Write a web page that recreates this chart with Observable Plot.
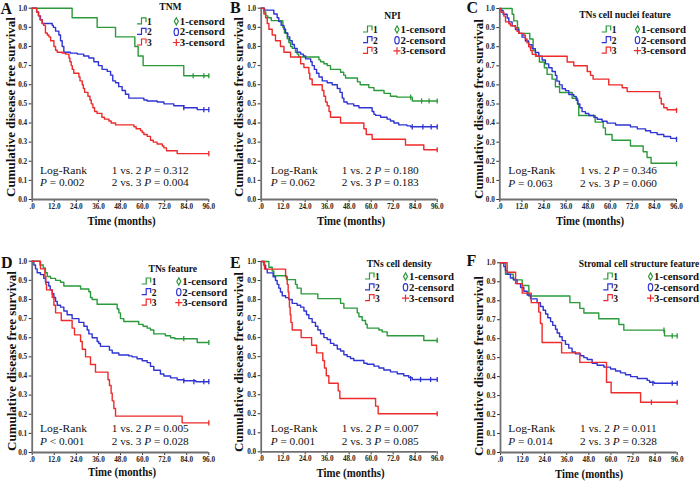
<!DOCTYPE html>
<html><head><meta charset="utf-8">
<script src="https://cdn.jsdelivr.net/npm/d3@7"></script>
<script src="https://cdn.jsdelivr.net/npm/@observablehq/plot@0.6"></script>
<style>
body{margin:0;background:#fff;}
#wrap{position:relative;width:700px;height:482px;overflow:hidden;}
.panel{position:absolute;}
#over{position:absolute;left:0;top:0;pointer-events:none;}
</style></head><body><div id="wrap"></div>
<script>
// ---------- data ----------
const xTicks=[0,12,24,36,48,60,72,84,96];
const xTickLabels=[".0","12.0","24.0","36.0","48.0","60.0","72.0","84.0","96.0"];
const yTicks=[0,0.1,0.2,0.3,0.4,0.5,0.6,0.7,0.8,0.9,1.0];
const yTickLabels=["0.0","0.1","0.2","0.3","0.4","0.5","0.6","0.7","0.8","0.9","1.0"];
const groups=["1","2","3"];
const censorLabels=["1-censord","2-censord","3-censord"];
const panelLetters=["A","B","C","D","E","F"];
const legendTitles=["TNM","NPI","TNs cell nuclei feature","TNs feature","TNs cell density","Stromal cell structure feature"];
const overallP=["= 0.002","= 0.062","= 0.063","< 0.001","= 0.001","= 0.014"];
const p12=["0.312","0.180","0.346","0.005","0.007","0.011"];
const p23=["0.004","0.183","0.060","0.028","0.085","0.328"];
const xTitle="Time (months)";
const yTitle="Cumulative disease free survival";

// Panel A (TNM)
const A1=[[0,1],[21.7,0.95],[35.3,0.90],[45.3,0.85],[55.8,0.80],[57.6,0.75],[60.3,0.70],[82.4,0.647],[96,0.647]];
const A1c=[[87.5,0.647],[93.3,0.647],[96,0.647]];
const A2=[[0,1],[2.4,0.98],[3.5,0.96],[4.5,0.94],[5.5,0.92],[10.9,0.91],[11.5,0.90],[12.7,0.88],[14.5,0.86],[15.4,0.83],[16.3,0.80],[17.2,0.77],[20.8,0.765],[24.5,0.76],[28,0.75],[30.8,0.74],[33.5,0.72],[36,0.70],[38,0.68],[40.8,0.67],[42.6,0.65],[43.8,0.62],[45.3,0.61],[47,0.59],[48.9,0.57],[50.7,0.55],[52.5,0.53],[60.7,0.52],[62.5,0.515],[68,0.51],[71.6,0.50],[77,0.49],[82.4,0.48],[89.7,0.47],[96,0.47]];
const A2c=[[82.4,0.48],[93.3,0.47],[96,0.47]];
const A3=[[0,1],[2.4,0.98],[3.3,0.96],[4.2,0.94],[5.4,0.92],[6.3,0.91],[7.2,0.87],[8.2,0.86],[9.1,0.85],[10,0.83],[11.8,0.80],[12.7,0.78],[13.6,0.77],[16.3,0.765],[18.1,0.76],[20,0.74],[20.5,0.72],[21.2,0.70],[21.8,0.68],[22.6,0.66],[25.4,0.64],[26,0.62],[27.2,0.60],[27.8,0.58],[28.5,0.56],[30.3,0.54],[31.4,0.52],[32.1,0.50],[33,0.48],[33.9,0.46],[35.3,0.45],[37.9,0.43],[39.3,0.42],[41.7,0.41],[42.9,0.40],[45.3,0.39],[55.3,0.38],[56.5,0.37],[58.9,0.36],[59.8,0.35],[60.7,0.34],[62.5,0.33],[64.3,0.31],[65.8,0.30],[67.9,0.29],[70.7,0.28],[71.6,0.27],[73,0.255],[78.8,0.24],[96,0.24]];
const A3c=[[96,0.24]];

// Panel B (NPI)
const B1=[[0,1],[1.5,0.98],[2.5,0.96],[3.6,0.95],[5.5,0.935],[11.8,0.90],[12.7,0.87],[14.2,0.84],[15.1,0.82],[16,0.80],[16.9,0.79],[18.7,0.77],[19.6,0.76],[20.5,0.745],[31.5,0.73],[32.4,0.72],[34.2,0.71],[36,0.70],[37.8,0.68],[43.3,0.665],[45,0.65],[46,0.635],[52.5,0.615],[54,0.60],[58.7,0.585],[61.5,0.57],[67,0.555],[70.5,0.54],[74,0.535],[82.4,0.515],[96,0.515]];
const B1c=[[81.5,0.535],[87.5,0.515],[91.6,0.515],[96,0.515]];
const B2=[[0,1],[1.8,0.99],[6.9,0.97],[8.7,0.95],[9.6,0.93],[10.9,0.91],[12.4,0.89],[13.3,0.87],[14.5,0.85],[15.6,0.83],[16.9,0.81],[18.1,0.79],[19.6,0.77],[21.5,0.76],[23,0.75],[24.2,0.735],[27,0.72],[27.8,0.70],[29,0.68],[30.2,0.66],[31.5,0.64],[33.3,0.62],[36,0.61],[38.7,0.60],[41.5,0.58],[43,0.56],[44.2,0.53],[45.1,0.51],[46.9,0.50],[50.5,0.49],[53.3,0.48],[60.5,0.46],[61.5,0.445],[62.4,0.44],[65.1,0.43],[68.7,0.42],[70.5,0.41],[72.4,0.40],[75,0.39],[79.5,0.385],[81.5,0.38],[96,0.38]];
const B2c=[[82.4,0.38],[88.2,0.38],[92.7,0.38],[96,0.38]];
const B3=[[0,1],[1.5,0.97],[2.4,0.95],[3.3,0.92],[4.2,0.89],[6,0.86],[7.8,0.83],[10.5,0.80],[12.4,0.77],[16,0.745],[21.5,0.71],[23.3,0.69],[26,0.66],[26.5,0.63],[27.8,0.60],[33.3,0.57],[34.2,0.54],[35.1,0.51],[36,0.49],[37,0.46],[37.8,0.43],[43.3,0.40],[56,0.37],[57.3,0.34],[60.5,0.315],[78.7,0.285],[88.7,0.26],[96,0.26]];
const B3c=[[96,0.26]];

// Panel C (TNs cell nuclei feature)
const C1=[[0,1],[6.7,0.97],[7.6,0.935],[9.6,0.90],[10.3,0.87],[16.3,0.84],[18.1,0.78],[19.4,0.75],[21.5,0.72],[24.2,0.69],[25.7,0.655],[28.4,0.63],[30.2,0.59],[32.5,0.56],[39.3,0.53],[42.2,0.50],[42.9,0.44],[51.8,0.405],[56.2,0.375],[57.4,0.34],[61,0.31],[71,0.28],[77.9,0.25],[80,0.22],[82.2,0.19],[96,0.187]];
const C1c=[[96,0.187]];
const C2=[[0,1],[0.7,0.99],[1.8,0.97],[4,0.95],[4.9,0.93],[6.7,0.91],[8.5,0.89],[10.3,0.87],[12.1,0.85],[13.9,0.83],[15.7,0.81],[17.5,0.79],[19.3,0.77],[21.2,0.75],[23,0.73],[24.8,0.71],[26.6,0.69],[28.4,0.67],[30.2,0.65],[31,0.62],[32.4,0.60],[33.9,0.58],[35.7,0.57],[37.5,0.55],[40.2,0.54],[41.5,0.52],[42.4,0.50],[43.5,0.48],[44.7,0.46],[46.5,0.45],[48.4,0.44],[51.1,0.43],[52.9,0.42],[55.6,0.41],[58.3,0.40],[62.9,0.39],[71,0.38],[74.7,0.37],[79.2,0.36],[81.9,0.35],[85.5,0.34],[89.1,0.33],[92.8,0.32],[96,0.315]];
const C2c=[[96,0.315]];
const C3=[[0,1],[0.7,0.98],[2.2,0.96],[3.1,0.93],[4.9,0.92],[5.8,0.91],[8.5,0.90],[9.4,0.88],[10.3,0.87],[13,0.86],[13.9,0.84],[14.8,0.82],[15.7,0.80],[16.7,0.78],[17.6,0.76],[19.8,0.75],[36.6,0.72],[40.2,0.70],[47.5,0.67],[49.3,0.65],[50.7,0.63],[59.2,0.60],[66.5,0.585],[69.2,0.565],[86.8,0.53],[87.7,0.50],[89.1,0.48],[90.9,0.47],[96,0.467]];
const C3c=[[96,0.467]];

// Panel D (TNs feature)
const D1=[[0,1],[4.2,0.98],[6,0.965],[7.2,0.94],[8.2,0.92],[10,0.91],[12.7,0.90],[15.4,0.89],[17.2,0.87],[26.3,0.855],[30.8,0.84],[31.7,0.81],[32.6,0.80],[35.3,0.775],[46.2,0.75],[47.1,0.73],[48,0.70],[49.8,0.685],[57.9,0.67],[60.3,0.66],[62.5,0.65],[64.3,0.64],[66.1,0.62],[72.4,0.61],[75.2,0.60],[77.5,0.595],[89.7,0.575],[96,0.575]];
const D1c=[[82.4,0.595],[96,0.575]];
const D2=[[0,1],[0.9,0.98],[1.8,0.96],[2.7,0.94],[4.5,0.93],[6.3,0.91],[7.2,0.89],[9,0.87],[9.8,0.85],[10.9,0.83],[11.8,0.81],[12.7,0.79],[13.6,0.77],[15.4,0.76],[17.2,0.74],[19,0.72],[21.7,0.70],[25.4,0.68],[28.1,0.66],[29.9,0.64],[30.8,0.62],[32.6,0.60],[35.3,0.58],[36.2,0.57],[37.1,0.555],[42,0.535],[43.5,0.52],[47.1,0.51],[52.5,0.505],[54.3,0.50],[57,0.49],[59.8,0.48],[62.5,0.47],[64.3,0.45],[66.1,0.43],[69.7,0.41],[71.6,0.40],[75.2,0.39],[78.8,0.38],[82.4,0.375],[89,0.37],[96,0.37]];
const D2c=[[82.4,0.375],[87.9,0.37],[93.3,0.37],[96,0.37]];
const D3=[[0,1],[4.5,0.96],[6.9,0.92],[7.4,0.88],[7.8,0.85],[10.9,0.81],[11.8,0.77],[12.7,0.73],[15.8,0.69],[21.7,0.65],[23,0.615],[26.3,0.58],[27.2,0.54],[29,0.50],[31.7,0.46],[34.4,0.42],[41.2,0.38],[42,0.35],[42.9,0.31],[43.5,0.27],[44.4,0.23],[45.3,0.19],[81.5,0.155],[96,0.155]];
const D3c=[[96,0.155]];

// Panel E (TNs cell density)
const E1=[[0,1],[4.2,0.97],[6,0.95],[6.9,0.925],[13.8,0.905],[18.7,0.88],[19.6,0.86],[21.8,0.83],[30.9,0.805],[43.3,0.78],[45.1,0.755],[52.4,0.73],[53.3,0.71],[55.1,0.69],[56.9,0.67],[57.8,0.65],[64.2,0.64],[66,0.63],[68.7,0.61],[88.7,0.585],[96,0.585]];
const E1c=[[96,0.585]];
const E2=[[0,1],[1.5,0.98],[2.4,0.96],[3.3,0.94],[6.5,0.92],[7.8,0.90],[8.7,0.88],[9.6,0.86],[10.5,0.84],[11.5,0.82],[13.3,0.81],[15.1,0.80],[16.9,0.78],[19.6,0.77],[21.5,0.76],[23.3,0.74],[24.7,0.72],[26,0.70],[27.8,0.68],[29.6,0.66],[30.9,0.64],[32.4,0.62],[34.2,0.60],[36,0.59],[37.8,0.57],[39.6,0.56],[41.5,0.54],[43.3,0.53],[45.1,0.51],[46.9,0.50],[48.7,0.49],[50.5,0.48],[56,0.465],[57.8,0.46],[61.5,0.45],[64.2,0.44],[66.9,0.43],[70.5,0.42],[74.2,0.41],[77.8,0.40],[80.5,0.39],[82.4,0.38],[96,0.38]];
const E2c=[[81.5,0.385],[86.9,0.38],[92.4,0.38],[96,0.38]];
const E3=[[0,1],[1.8,0.96],[13.3,0.92],[14.2,0.88],[14.7,0.84],[15.1,0.80],[15.4,0.76],[15.8,0.72],[16.2,0.68],[16.9,0.64],[21.8,0.60],[27.5,0.56],[30.2,0.52],[33.6,0.48],[34.5,0.44],[35.5,0.40],[36.9,0.36],[42,0.32],[42.9,0.28],[62.4,0.24],[63.8,0.20],[96,0.20]];
const E3c=[[96,0.20]];

// Panel F (Stromal cell structure feature)
const F1=[[0,1],[2.7,0.94],[6.9,0.91],[11.8,0.88],[15.4,0.825],[37.7,0.79],[43.1,0.76],[45.3,0.735],[53.4,0.705],[64.3,0.675],[67,0.645],[89.1,0.615],[96,0.615]];
const F1c=[[88.8,0.645],[93.3,0.615],[96,0.615]];
const F2=[[0,1],[1.8,0.98],[2.7,0.96],[3.6,0.94],[5.4,0.92],[7.2,0.91],[9,0.89],[10.9,0.87],[12.7,0.85],[14.5,0.83],[16.3,0.81],[19.9,0.79],[21.7,0.77],[23.2,0.75],[24.5,0.73],[25.7,0.71],[27.2,0.69],[28.4,0.67],[29.9,0.65],[30.8,0.63],[32.1,0.61],[33.5,0.59],[35.3,0.57],[37.1,0.55],[38.9,0.53],[40.7,0.52],[43.5,0.51],[45.3,0.50],[47.1,0.49],[49.8,0.47],[52.5,0.46],[56.2,0.45],[59.8,0.44],[62.5,0.43],[65.2,0.42],[67.9,0.41],[70.7,0.40],[74.3,0.39],[79.7,0.38],[81,0.37],[83.5,0.365],[96,0.365]];
const F2c=[[82.8,0.365],[93.3,0.365],[96,0.365]];
const F3=[[0,1],[3.6,0.95],[8.2,0.89],[11.8,0.84],[16.7,0.79],[20.8,0.74],[21.7,0.68],[22.6,0.58],[33.2,0.525],[43.1,0.475],[57.6,0.37],[60.1,0.315],[76.1,0.265],[96,0.265]];
const F3c=[[82,0.265],[96,0.265]];

const series=[[A1,A2,A3],[B1,B2,B3],[C1,C2,C3],[D1,D2,D3],[E1,E2,E3],[F1,F2,F3]];
const censors=[[A1c,A2c,A3c],[B1c,B2c,B3c],[C1c,C2c,C3c],[D1c,D2c,D3c],[E1c,E2c,E3c],[F1c,F2c,F3c]];

// ---------- layout & style ----------
const colors=["#2a9a3a","#2f34d2","#ee2a2a"];
const layout=[
 {box:[0,0,230,240],frame:[31.7,208.3,7.7,199],letter:[0.5,14],yt:[15,107],xt:[121.5,225],lr:[40,111.7,173.5,186],lg:{tx:170.5,ty:10,ix:137,sx:176.3,rows:[24.8,35.4,46]}},
 {box:[230,0,230,240],frame:[260.7,436.7,7.7,199],letter:[230,13],yt:[243,107],xt:[351,225],lr:[270.7,341.7,173.5,186],lg:{tx:392.5,ty:19.3,ix:363,sx:397,rows:[33,43.7,54.3]}},
 {box:[460,0,240,240],frame:[499.3,676,8,199],letter:[466.5,13],yt:[482.5,109],xt:[590,225],lr:[508.3,580,174,186.5],lg:{tx:625,ty:18.3,ix:601.7,sx:637.5,rows:[33,43.6,54.2]}},
 {box:[0,240,230,242],frame:[31.7,208.3,260.7,452],letter:[1,268],yt:[15.5,361],xt:[122,475.5],lr:[40,111.7,432,444.5],lg:{tx:172.8,ty:271.7,ix:141.7,sx:178.8,rows:[285,295.6,306.2]}},
 {box:[230,240,230,242],frame:[260.7,436.7,261,451.3],letter:[230,268],yt:[242.5,362],xt:[350.5,477],lr:[270.7,341.7,432.3,444.8],lg:{tx:399.2,ty:266.7,ix:365,sx:405.5,rows:[280,290.8,301.6]}},
 {box:[460,240,240,242],frame:[500,676.7,262.3,452],letter:[466.5,266],yt:[482.5,366],xt:[589,478],lr:[508.3,580,432.3,444.8],lg:{tx:639,ty:266.7,ix:603.3,sx:650.5,rows:[280,290.8,301.6]}}
];
const SERIF='"Liberation Serif","Times New Roman",serif';
const tickSym={draw(ctx){ctx.moveTo(0,-2.6);ctx.lineTo(0,2.6);}};

const wrap=document.getElementById("wrap");

layout.forEach((L,p)=>{
  const [bx,by,bw,bh]=L.box, [fx0,fx1,fy0,fy1]=L.frame;
  const marks=[
    Plot.axisY({ticks:yTicks,tickFormat:d=>yTickLabels[yTicks.indexOf(d)],tickSize:3,tickPadding:2,label:null,stroke:"#333"}),
    Plot.axisX({ticks:xTicks,tickFormat:d=>xTickLabels[xTicks.indexOf(d)],tickSize:3,tickPadding:1,label:null,stroke:"#333"}),
    Plot.ruleX([0],{stroke:"#707070",strokeWidth:1.8}),
    Plot.ruleY([0],{stroke:"#707070",strokeWidth:1.8})
  ];
  series[p].forEach((s,i)=>{
    marks.push(Plot.line(s,{x:d=>d[0],y:d=>d[1],curve:"step-after",stroke:colors[i],strokeWidth:1.4}));
  });
  censors[p].forEach((c,i)=>{
    marks.push(Plot.dot(c,{x:d=>d[0],y:d=>d[1],symbol:tickSym,stroke:colors[i],strokeWidth:1.3,fill:"none",r:3}));
  });
  const chart=Plot.plot({
    width:bw,height:bh,
    marginLeft:fx0-bx,marginRight:bx+bw-fx1,marginTop:fy0-by,marginBottom:by+bh-fy1,
    x:{domain:[0,96]},y:{domain:[0,1]},
    style:{fontFamily:SERIF,fontSize:"7.2px",fontWeight:"bold",color:"#222",background:"transparent",overflow:"visible"},
    marks
  });
  chart.classList.add("panel");
  chart.style.left=bx+"px";chart.style.top=by+"px";
  wrap.appendChild(chart);
});

// ---------- overlay texts / legends ----------
const svg=d3.select(wrap).append("svg").attr("id","over").attr("width",700).attr("height",482)
  .style("font-family",SERIF);
function txt(x,y,s,o={}){
  const t=svg.append("text")
    .attr("font-size",o.size||10).attr("font-weight",o.weight||"normal").attr("text-anchor",o.anchor||"start")
    .attr("fill","#111").text(s);
  if(o.italic) t.attr("font-style","italic");
  if(o.rot) t.attr("transform",`translate(${x},${y}) rotate(-90)`);
  else t.attr("x",x).attr("y",y);
  if(o.len) t.attr("textLength",o.len).attr("lengthAdjust","spacingAndGlyphs");
  return t;
}
// a run of text pieces placed one after another (italic P etc.)
function run(x,y,parts,size){
  let cx=x;
  parts.forEach(pt=>{
    const t=txt(cx,y,pt.t,{size,italic:pt.i});
    cx+=t.node().getComputedTextLength()+size*0.25;
  });
}
const LR=11.3;
layout.forEach((L,p)=>{
  txt(L.letter[0],L.letter[1],panelLetters[p],{size:16,weight:"bold"});
  txt(L.yt[0],L.yt[1],yTitle,{size:13,weight:"bold",anchor:"middle",rot:true});
  txt(L.xt[0],L.xt[1],xTitle,{size:12.5,weight:"bold",anchor:"middle",len:68});
  const [lx,rx,y1,y2]=L.lr;
  txt(lx,y1,"Log-Rank",{size:LR,len:47});
  run(lx,y2,[{t:"P",i:true},{t:overallP[p]}],LR);
  run(rx,y1,[{t:"1 vs. 2"},{t:"P",i:true},{t:"= "+p12[p]}],LR);
  run(rx,y2,[{t:"2 vs. 3"},{t:"P",i:true},{t:"= "+p23[p]}],LR);
  const g=L.lg;
  txt(g.tx,g.ty,legendTitles[p],{size:9.6,weight:"bold",anchor:"middle"});
  g.rows.forEach((ry,i)=>{
    svg.append("path").attr("d",`M${g.ix},${ry-1} H${g.ix+4.5} V${ry-7} H${g.ix+9} V${ry-2.5}`)
      .attr("fill","none").attr("stroke",colors[i]).attr("stroke-width",1.2);
    txt(g.ix+10,ry,groups[i],{size:9.5,weight:"bold"});
    const cx=g.sx, cy=ry-3.5;
    if(i===0) svg.append("path").attr("d",`M${cx},${cy-3.6} L${cx+2},${cy} L${cx},${cy+3.6} L${cx-2},${cy} Z`).attr("fill","none").attr("stroke",colors[i]).attr("stroke-width",1.2);
    else if(i===1) svg.append("ellipse").attr("cx",cx).attr("cy",cy).attr("rx",2.2).attr("ry",3.6).attr("fill","none").attr("stroke",colors[i]).attr("stroke-width",1.2);
    else svg.append("path").attr("d",`M${cx-3.5},${cy} H${cx+3.5} M${cx},${cy-3.6} V${cy+3.6}`).attr("fill","none").attr("stroke",colors[i]).attr("stroke-width",1.2);
    txt(cx+3.5,ry,censorLabels[i],{size:9.5,weight:"bold",len:45});
  });
});
</script></body></html>
